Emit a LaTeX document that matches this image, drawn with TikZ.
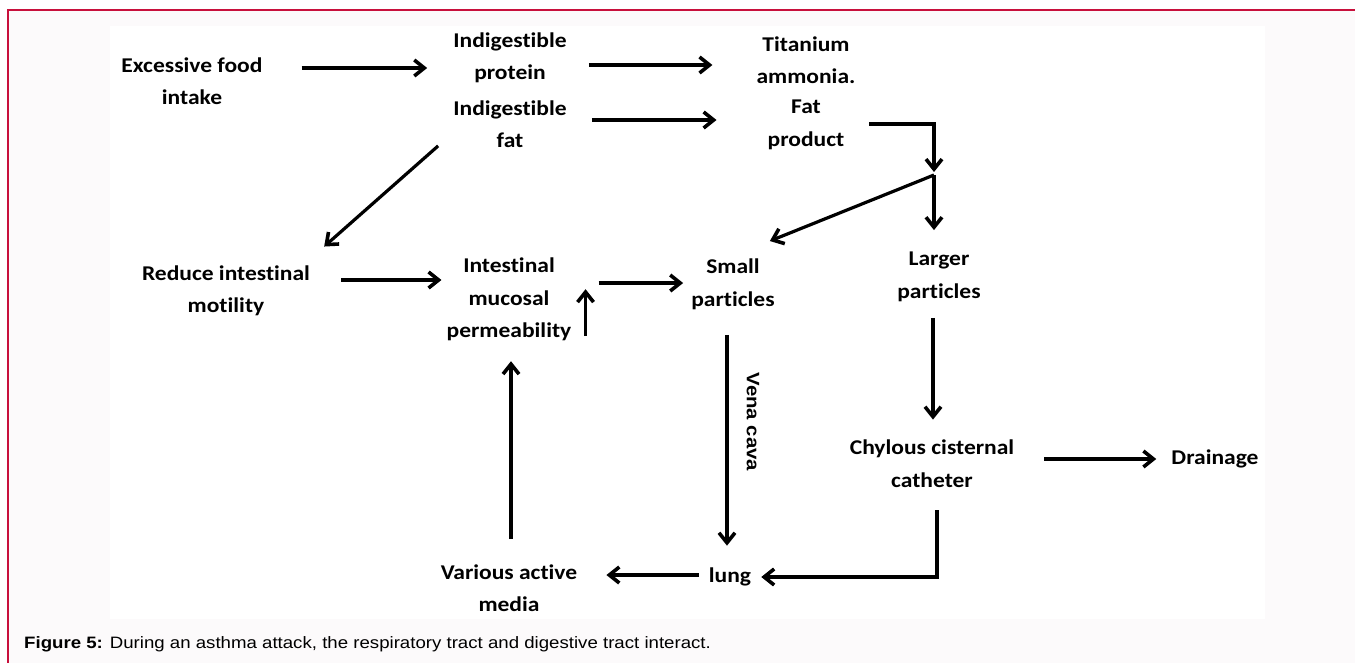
\documentclass[tikz,border=0pt]{standalone}
\usepackage{fontspec}
\usepackage{tikz}
\usetikzlibrary{arrows.meta}
\newfontfamily\calib[Ligatures=NoCommon, FakeStretch=1.12]{Carlito}
\newfontfamily\arialf[FakeStretch=1.13]{Liberation Sans}
\definecolor{framered}{RGB}{200,16,60}
\definecolor{pagegray}{RGB}{252,250,251}
\tikzset{
  lbl/.style={align=center, inner sep=0pt, font=\calib\bfseries\fontsize{21}{32.5}\selectfont},
  arr/.style={line width=3.2pt, -{Straight Barb[length=10pt,width=16pt,line width=3.6pt]}}
}

\begin{document}
\begin{tikzpicture}[x=1pt, y=-1pt]
            \useasboundingbox (0,0) rectangle (1355,663);
            \fill[white] (0,0) rectangle (1355,663);
            \fill[pagegray] (8,10) rectangle (1355,663);
            \fill[white] (110,26) rectangle (1265,619);
            \draw[framered, line width=1.6pt] (8,663) -- (8,10) -- (1355,10);
            \node[lbl] (food) at (192,81) {Excessive food\\intake};
            \node[lbl] (prot) at (510,58) {Indigestible\\protein};
            \node[lbl] (fat) at (510,124) {Indigestible\\fat};
            \node[lbl] (ammo) at (806,60) {Titanium\\ammonia.};
            \node[lbl] (prod) at (806,125) {Fat\\product};
            \coordinate (split) at (934,175);
            \node[lbl] (motil) at (226,291) {Reduce intestinal\\motility};
            \node[lbl] (perm) at (509,299.5) {Intestinal\\mucosal\\permeability};
            \node[lbl] (small) at (733,284.5) {Small\\particles};
            \node[lbl] (large) at (939,277) {Larger\\particles};
            \node[lbl] (chyl) at (932,463.5) {Chylous cisternal\\catheter};
            \node[lbl] (drain) at (1215,459) {Drainage};
            \node[lbl] (lung) at (730,577) {lung};
            \node[lbl] (media) at (509,588) {Various active\\media};
            \node[rotate=-90, inner sep=0pt, font=\arialf\bfseries\fontsize{18}{20}\selectfont] (vena) at (753,422) {Vena cava};
            \draw[arr, shorten <=39pt, shorten >=26pt] ([yshift=13pt]food.east) -- ([yshift=13pt]food.east -| prot.west);
            \draw[arr, shorten <=22pt, shorten >=44pt] ([yshift=-7pt]prot.east) -- ([yshift=-7pt]prot.east -| ammo.west);
            \draw[arr, shorten <=25pt, shorten >=51pt] ([yshift=4pt]fat.east) -- ([yshift=4pt]fat.east -| prod.west);
            \draw[arr, shorten <=25pt, shorten >=3pt] ([yshift=1pt]prod.east) -| (split);
            \draw[arr, shorten >=22pt] (split) -- (split |- large.north);
            \draw[arr] (split) -- ([shift={(-5,-18)}]small.north east);
            \draw[arr] ([shift={(-15,-2)}]fat.south west) -- ([shift={(14,-19)}]motil.north east);
            \draw[arr, shorten <=31pt, shorten >=5pt] ([yshift=11pt]motil.east) -- ([yshift=11pt]motil.east -| perm.west);
            \draw[arr, shorten <=27pt, shorten >=8pt] ([yshift=16.5pt]perm.east) -- ([yshift=16.5pt]perm.east -| small.west);
            \draw[arr] ([xshift=14pt,yshift=5pt]perm.south east) -- ++(0,-47);
            \draw[arr, shorten <=25pt, shorten >=20pt] ([xshift=2pt]media.north) -- ([xshift=2pt]perm.south);
            \draw[arr, shorten <=25pt, shorten >=22pt] ([xshift=-6pt]small.south) -- ([xshift=-6pt]small.south |- lung.north);
            \draw[arr, shorten <=16pt, shorten >=20pt] ([xshift=-6pt]large.south) -- ([xshift=-6pt]large.south |- chyl.north);
            \draw[arr, shorten <=30pt, shorten >=15pt] ([yshift=4.5pt]chyl.east) -- ([yshift=4.5pt]chyl.east -| drain.west);
            \draw[arr, shorten <=23pt, shorten >=10pt] ([xshift=5pt]chyl.south) |- (lung.east);
            \draw[arr, shorten <=10pt, shorten >=29pt] ([yshift=2pt]lung.west) -- ([yshift=2pt]lung.west -| media.east);
            \node[anchor=west, inner sep=0pt, font=\arialf\fontsize{16.5}{18}\selectfont] (cap) at (24,644) {\textbf{Figure 5:} During an asthma attack, the respiratory tract and digestive tract interact.};
        \end{tikzpicture}
\end{document}
